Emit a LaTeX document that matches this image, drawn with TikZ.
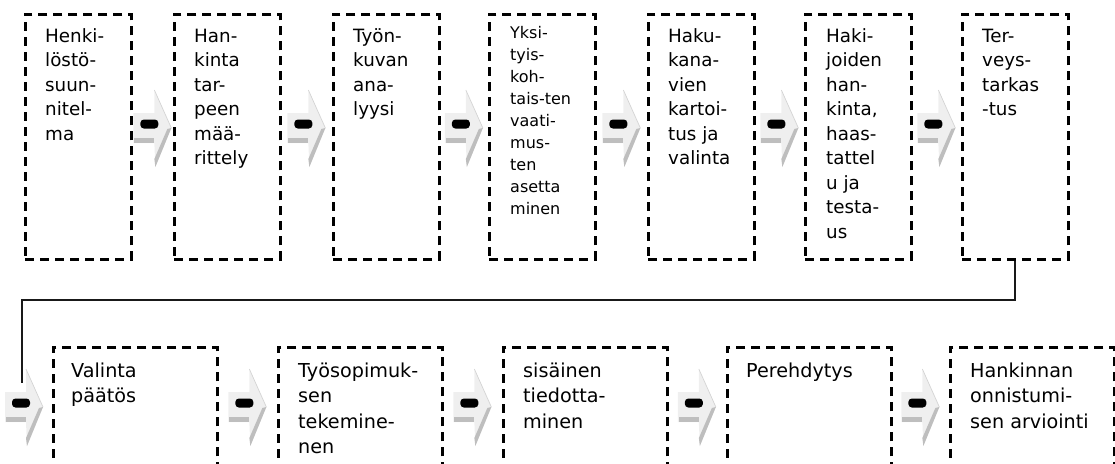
\documentclass[tikz,border=0pt]{standalone}
\usepackage{fontspec}
\setmainfont{DejaVu Sans}
\usetikzlibrary{calc}

\definecolor{arrowbody}{HTML}{EFEFEF}
\definecolor{arrowshade}{HTML}{BEBEBE}
\definecolor{arrowedge}{HTML}{D4D4D4}

\tikzset{
  stepbox/.style={rectangle, draw=black, line width=2.7pt,
    dash pattern=on 9pt off 6pt, inner sep=0pt, anchor=north west,
    minimum width=106pt, minimum height=245pt},
  lowbox/.style={stepbox, minimum width=164pt, minimum height=140pt},
  steptext/.style={anchor=base west, inner sep=0pt,
    font=\fontsize{18.3}{24.5}\selectfont},
  smalltext/.style={steptext, font=\fontsize{16}{22}\selectfont},
  lowtext/.style={steptext, font=\fontsize{19.2}{25.5}\selectfont},
  link/.style={draw=black!90, line width=2pt},
  % block arrow between two steps, origin at its tip
  procarrow/.pic={
    \fill[arrowbody] (-38,-15) -- (-17,-15) -- (-17,-38) -- (0,0)
      -- (-16,39) -- (-17,15) -- (-38,15) -- cycle;
    \fill[arrowshade] (-37,10) rectangle (-17,15);
    \fill[arrowshade] (0,0) -- (-16,39) -- (-17,31) -- (-4,1) -- cycle;
    \draw[arrowedge, line width=0.7pt] (-17,-38) -- (0,0);
    \fill[black, rounded corners=3.5pt] (-31,-8.5) rectangle (-13,0.5);
  }
}

\newcommand{\lines}[1]{\begin{tabular}[t]{@{}l@{}}#1\end{tabular}}

\begin{document}
\begin{tikzpicture}[x=1pt, y=-1pt]
\useasboundingbox (0,0) rectangle (1115,463);
\clip (0,0) rectangle (1115,463);

% upper row of steps
\node[stepbox] (b1) at (24,13) {};
\node[stepbox] (b2) at (173,13) {};
\node[stepbox] (b3) at (332,13) {};
\node[stepbox] (b4) at (488,13) {};
\node[stepbox] (b5) at (647,13) {};
\node[stepbox] (b6) at (804,13) {};
\node[stepbox] (b7) at (961,13) {};

\node[steptext] (t1) at ($(b1.north west)+(21,29)$) {\lines{Henki-\\löstö-\\suun-\\nitel-\\ma}};
\node[steptext] (t2) at ($(b2.north west)+(21,29)$) {\lines{Han-\\kinta\\tar-\\peen\\mää-\\rittely}};
\node[steptext] (t3) at ($(b3.north west)+(21,29)$) {\lines{Työn-\\kuvan\\ana-\\lyysi}};
\node[smalltext] (t4) at ($(b4.north west)+(22,25)$) {\lines{Yksi-\\tyis-\\koh-\\tais-ten\\vaati-\\mus-\\ten\\asetta\\minen}};
\node[steptext] (t5) at ($(b5.north west)+(21,29)$) {\lines{Haku-\\kana-\\vien\\kartoi-\\tus ja\\valinta}};
\node[steptext] (t6) at ($(b6.north west)+(22,29)$) {\lines{Haki-\\joiden\\han-\\kinta,\\haas-\\tattel\\u ja\\testa-\\us}};
\node[steptext] (t7) at ($(b7.north west)+(21,29)$) {\lines{Ter-\\veys-\\tarkas\\-tus}};

\pic at ($(b1.north east)!0.5!(b2.north west)+(18.5,115)$) {procarrow};
\pic at ($(b2.north east)!0.5!(b3.north west)+(18.5,115)$) {procarrow};
\pic at ($(b3.north east)!0.5!(b4.north west)+(18.5,115)$) {procarrow};
\pic at ($(b4.north east)!0.5!(b5.north west)+(18.5,115)$) {procarrow};
\pic at ($(b5.north east)!0.5!(b6.north west)+(18.5,115)$) {procarrow};
\pic at ($(b6.north east)!0.5!(b7.north west)+(18.5,115)$) {procarrow};

% lower row of steps
\node[lowbox] (b8) at (52,346) {};
\node[lowbox] (b9) at (277,346) {};
\node[lowbox] (b10) at (502,346) {};
\node[lowbox] (b11) at (726,346) {};
\node[lowbox] (b12) at (949,346) {};

\node[lowtext] (t8) at ($(b8.north west)+(19,31)$) {\lines{Valinta\\päätös}};
\node[lowtext] (t9) at ($(b9.north west)+(21,31)$) {\lines{Työsopimuk-\\sen\\tekemine-\\nen}};
\node[lowtext] (t10) at ($(b10.north west)+(21,31)$) {\lines{sisäinen\\tiedotta-\\minen}};
\node[lowtext] (t11) at ($(b11.north west)+(20,31)$) {\lines{Perehdytys}};
\node[lowtext] (t12) at ($(b12.north west)+(21,31)$) {\lines{Hankinnan\\onnistumi-\\sen arviointi}};

\pic at ($(b8.north west)+(-9,61)$) {procarrow};
\pic at ($(b8.north east)!0.5!(b9.north west)+(18.5,61)$) {procarrow};
\pic at ($(b9.north east)!0.5!(b10.north west)+(18.5,61)$) {procarrow};
\pic at ($(b10.north east)!0.5!(b11.north west)+(18.5,61)$) {procarrow};
\pic at ($(b11.north east)!0.5!(b12.north west)+(18.5,61)$) {procarrow};

% return line from the last upper step down to the lower row
\coordinate (lend) at ($(b8.north west)+(-30,37)$);
\draw[link] (b7.south) -- ++(0,39) -| (lend);
\end{tikzpicture}
\end{document}
